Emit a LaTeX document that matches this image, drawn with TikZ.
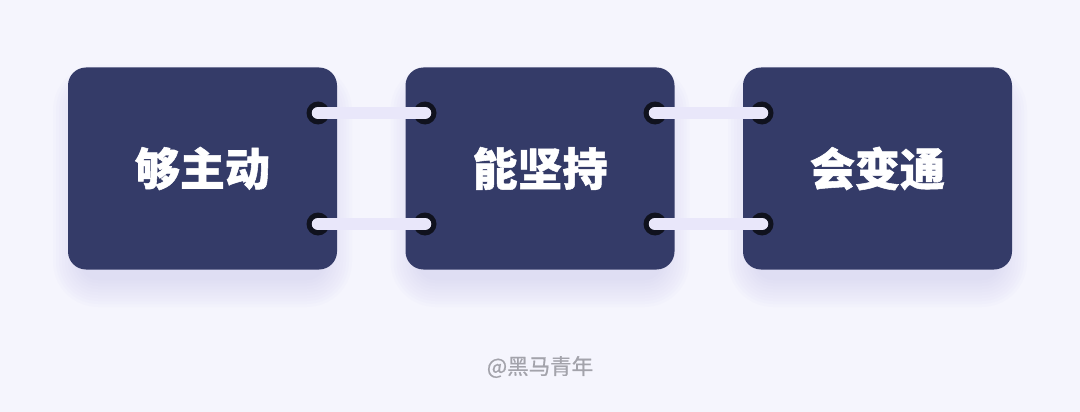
\documentclass[tikz,border=0pt]{standalone}
\usepackage{fontspec}
\newfontfamily\cjk{Noto Sans CJK SC}
\newfontfamily\cjkm{Noto Sans CJK SC}[FakeBold=0.7]
\newfontfamily\cjkh{Noto Sans CJK SC}[BoldFeatures={FakeBold=1.2}]
\definecolor{bg}{HTML}{F5F5FD}
\definecolor{navy}{HTML}{343B68}
\definecolor{barc}{HTML}{E9E7FA}
\definecolor{holec}{HTML}{10121E}
\definecolor{shc}{HTML}{B8B4E4}
\definecolor{wm}{HTML}{A3A3AB}
\tikzset{
  card/.style={fill=navy, rounded corners=18pt, minimum width=269pt, minimum height=202pt,
    inner sep=0pt, text=white, font=\cjkh\bfseries\fontsize{45}{48}\selectfont},
  hole/.style={circle, fill=holec, minimum size=23pt, inner sep=0pt},
  bar/.style={draw=barc, line width=12.5pt, line cap=round},
  shadowlayer/.style={fill=shc, fill opacity=0.035},
}
\begin{document}
\begin{tikzpicture}[x=1pt,y=-1pt]
\fill[bg] (0,0) rectangle (1080,412);
\useasboundingbox (0,0) rectangle (1080,412);
% soft shadows below the cards
\foreach \cx in {202.5,540,877.5}{
  \foreach \e in {0,3,...,27}{
    \fill[shadowlayer, rounded corners={18pt+\e pt}]
      (\cx-134.5-\e+12, 80-\e+12) rectangle (\cx+134.5+\e-12, 280+\e);
  }
}
\node[card] (c1) at (202.5,168.5) {够主动};
\node[card] (c2) at (540,168.5) {能坚持};
\node[card] (c3) at (877.5,168.5) {会变通};
% holes
\node[hole] (a1) at (318,113) {};
\node[hole] (a2) at (425,113) {};
\node[hole] (b1) at (318,224) {};
\node[hole] (b2) at (425,224) {};
\node[hole] (a3) at (655,113) {};
\node[hole] (a4) at (762,113) {};
\node[hole] (b3) at (655,224) {};
\node[hole] (b4) at (762,224) {};
\draw[bar] (a1.center) -- (a2.center);
\draw[bar] (b1.center) -- (b2.center);
\draw[bar] (a3.center) -- (a4.center);
\draw[bar] (b3.center) -- (b4.center);
\node[text=wm, font=\cjkm\fontsize{21.5}{24}\selectfont] (wmk) at (540,367) {@黑马青年};
\end{tikzpicture}
\end{document}
